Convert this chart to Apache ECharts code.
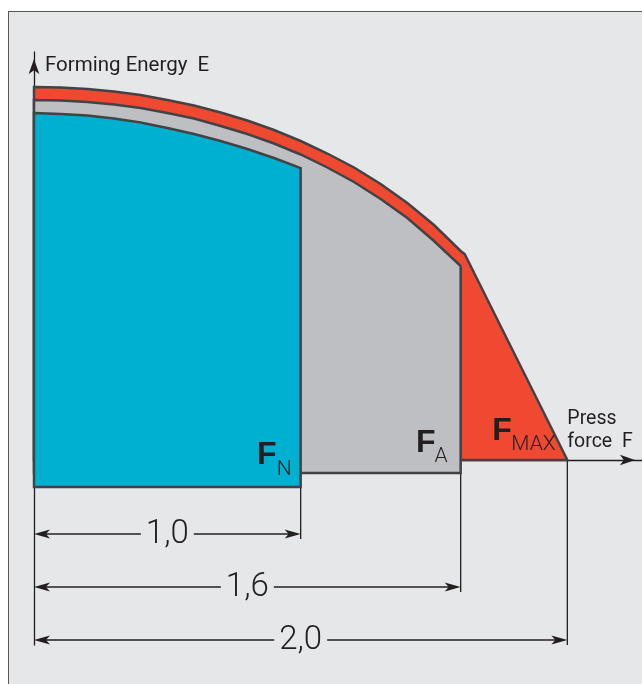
<!DOCTYPE html>
<html>
<head>
<meta charset="utf-8">
<script src="https://cdn.jsdelivr.net/npm/echarts@6/dist/echarts.min.js"></script>
<style>
  html, body { margin: 0; padding: 0; background: #fff; overflow: hidden; }
  #frame { position: absolute; left: 8px; top: 11px; width: 700px; height: 700px;
           background: #e6e7e9; border-left: 1.5px solid #58595b; border-top: 1.5px solid #58595b; }
  #chart { position: absolute; left: 0; top: 0; width: 642px; height: 684px; }
</style>
</head>
<body>
<div id="frame"></div>
<div id="chart"></div>
<script>
// press force F (as a multiple of nominal force), samples along the curves
const forceSteps = [0, 0.1, 0.2, 0.3, 0.4, 0.5, 0.6, 0.7, 0.8, 0.9, 1.0, 1.1, 1.2, 1.3, 1.4, 1.5, 1.6];
// forming energy E on the top edge of each area
const energyMax = [37.3, 37.25, 37.1, 36.85, 36.5, 36.0, 35.45, 34.75, 33.95, 33.0, 31.9, 30.65, 29.25, 27.6, 25.7, 23.5, 20.9];
const energyA   = [36.0, 35.95, 35.8, 35.55, 35.2, 34.7, 34.15, 33.4, 32.6, 31.65, 30.55, 29.25, 27.8, 26.1, 24.2, 21.9, 19.4];
const energyN   = [34.7, 34.6, 34.45, 34.15, 33.75, 33.2, 32.6, 31.9, 31.1, 30.2, 29.2];
// F_MAX: knee of the curve, then straight down to zero energy
const maxTail = [[1.615, 20.6], [2.0, 0]];
// force limits of the three areas and their (stacked) base lines
const forceLimits = [2.0, 1.6, 1.0];
const areaBases = [0, -1.3, -2.7];
const dimLabels = ['1,0', '1,6', '2,0'];

const ink = '#231f20';
const outline = '#434244';
const areaColors = ['#ef4a31', '#bebfc3', '#00b0d1'];
const tops = [energyMax, energyA, energyN];
// dimension rows (energy level of each arrow line)
const dimRows = [-7.4, -12.7, -18.0];

const bold = 'bold 32px "Liberation Sans Narrow", "Liberation Sans", sans-serif';
const sub = '300 21px Roboto, sans-serif';
const small = '400 19.5px Roboto, sans-serif';

function txt(text, x, y, font, align) {
  return { type: 'text', style: { text: text, x: x, y: y, font: font, fill: ink,
           align: align || 'left', verticalAlign: 'middle' } };
}

function renderArea(params, api) {
  const i = params.dataIndex;
  const top = tops[i];
  const pts = [];
  top.forEach(function (e, k) { pts.push(api.coord([forceSteps[k], e])); });
  if (i === 0) {
    maxTail.forEach(function (p) { pts.push(api.coord(p)); });
  } else {
    pts.push(api.coord([forceLimits[i], areaBases[i]]));
  }
  pts.push(api.coord([0, areaBases[i]]));
  const a = api.coord([forceLimits[i], areaBases[i]]);
  const children = [{
    type: 'polygon', shape: { points: pts },
    style: { fill: areaColors[i], stroke: outline, lineWidth: 2.5, lineJoin: 'miter' }
  }];
  if (i === 0) {
    children.push(txt('F', a[0] - 75, a[1] - 29, bold));
    children.push(txt('MAX', a[0] - 56, a[1] - 15, sub));
    children.push(txt('Press', a[0], a[1] - 41, small));
    children.push(txt('force  F', a[0], a[1] - 18, small));
  } else if (i === 1) {
    children.push(txt('F', a[0] - 25, a[1] - 30, bold, 'right'));
    children.push(txt('A', a[0] - 13, a[1] - 16, sub, 'right'));
  } else {
    children.push(txt('F', a[0] - 24, a[1] - 32, bold, 'right'));
    children.push(txt('N', a[0] - 9, a[1] - 17, sub, 'right'));
  }
  return { type: 'group', children: children };
}

function arrowHead(tip, dir) {
  const x = tip[0], y = tip[1];
  return { type: 'polygon', shape: { points: [[x, y], [x - dir * 16, y - 4.5], [x - dir * 12, y], [x - dir * 16, y + 4.5]] },
           style: { fill: ink } };
}

function renderDim(params, api) {
  const i = params.dataIndex;
  const v = api.value(0), row = api.value(1), ext = api.value(2);
  const p0 = api.coord([0, row]);
  const p1 = api.coord([v, row]);
  const e0 = api.coord([v, ext]);
  const e1 = api.coord([v, row - 0.5]);
  return {
    type: 'group',
    children: [
      { type: 'line', shape: { x1: e0[0], y1: e0[1], x2: e1[0], y2: e1[1] }, style: { stroke: ink, lineWidth: 1.3 } },
      { type: 'line', shape: { x1: p0[0] + 8, y1: p0[1], x2: p1[0] - 8, y2: p1[1] }, style: { stroke: ink, lineWidth: 1.6 } },
      arrowHead(p0, -1),
      arrowHead(p1, 1),
      { type: 'text', style: { text: dimLabels[i], x: (p0[0] + p1[0]) / 2, y: p0[1] + 1,
          font: '300 33px Roboto, sans-serif', fill: ink, align: 'center', verticalAlign: 'middle',
          backgroundColor: '#e6e7e9', padding: [0, 5] } }
    ]
  };
}

const chart = echarts.init(document.getElementById('chart'));
chart.setOption({
  animation: false,
  grid: { left: 34, right: 0, top: 52, bottom: 39 },
  xAxis: {
    type: 'value', min: 0, max: 2.28,
    axisLine: { onZero: true, symbol: ['none', 'arrow'], symbolSize: [8, 15], symbolOffset: [0, -7],
                lineStyle: { color: ink, width: 1.3 } },
    axisTick: { show: false }, axisLabel: { show: false }, splitLine: { show: false }
  },
  yAxis: {
    type: 'value', min: -18.5, max: 40.8,
    name: 'Forming Energy  E', nameLocation: 'end', nameGap: -14,
    nameTextStyle: { align: 'left', verticalAlign: 'middle', padding: [0, 0, 0, 11],
                     fontFamily: 'Roboto', fontSize: 20.5, color: ink },
    axisLine: { onZero: true, symbol: ['none', 'arrow'], symbolSize: [8, 15], symbolOffset: [0, -7],
                lineStyle: { color: ink, width: 1.3 } },
    axisTick: { show: false }, axisLabel: { show: false }, splitLine: { show: false }
  },
  series: [
    { type: 'custom', name: 'areas', renderItem: renderArea,
      data: forceLimits.map(function (f, i) { return [f, areaBases[i]]; }), z: 3 },
    { type: 'custom', name: 'dims', renderItem: renderDim,
      data: [[forceLimits[2], dimRows[0], areaBases[2]], [forceLimits[1], dimRows[1], areaBases[1]],
             [forceLimits[0], dimRows[2], areaBases[0]]], z: 2 }
  ]
});
</script>
</body>
</html>
